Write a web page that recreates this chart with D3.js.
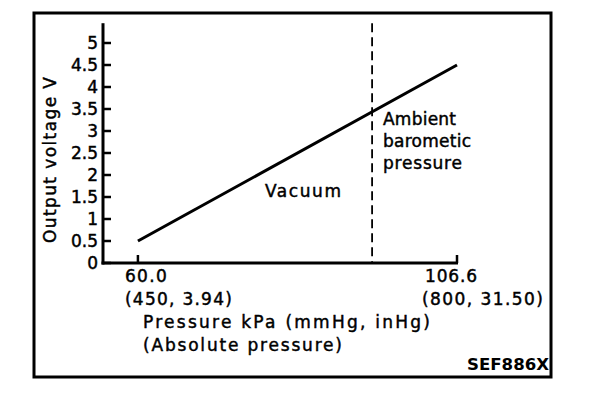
<!DOCTYPE html>
<html>
<head>
<meta charset="utf-8">
<script src="https://cdn.jsdelivr.net/npm/d3@7"></script>
<style>
  body { margin: 0; background: #fff; }
  text { font-family: "DejaVu Sans", "Liberation Sans", Arial, sans-serif; fill: #000; }
</style>
</head>
<body>
<div id="chart"></div>
<script>
// valeurs
var yTicks = [0, 0.5, 1, 1.5, 2, 2.5, 3, 3.5, 4, 4.5, 5];
var yTickLabels = ["0", "0.5", "1", "1.5", "2", "2.5", "3", "3.5", "4", "4.5", "5"];
var xTicks = [60.0, 106.6];
var xTickLabels = ["60.0", "106.6"];
var xSubLabels = ["(450, 3.94)", "(800, 31.50)"];
var pressure = [60.0, 106.6];
var voltage = [0.5, 4.5];
var ambientPressure = 94.2;
var ambientLabel = ["Ambient", "barometic", "pressure"];

var width = 608, height = 394;

var svg = d3.select("#chart").append("svg")
  .attr("width", width)
  .attr("height", height);

// cadre
svg.append("rect")
  .attr("x", 34).attr("y", 13)
  .attr("width", 517).attr("height", 364)
  .attr("fill", "none")
  .attr("stroke", "#000")
  .attr("stroke-width", 3);

var x = d3.scaleLinear().domain([54.9, 106.6]).range([103, 457]);
var y = d3.scaleLinear().domain([0, 5]).range([263, 43]);

// style commun des textes
function txt(sel, size) {
  return sel.attr("font-size", size || 17)
    .attr("stroke", "#000")
    .attr("stroke-width", 0.45)
    .attr("lengthAdjust", "spacing");
}

// axe y
svg.append("line")
  .attr("x1", x(54.9)).attr("x2", x(54.9))
  .attr("y1", y(5.45)).attr("y2", y(0) + 1.5)
  .attr("stroke", "#000").attr("stroke-width", 3);

svg.append("g").selectAll("line")
  .data(yTicks)
  .join("line")
    .attr("x1", x(54.9)).attr("x2", x(54.9) + 8)
    .attr("y1", d => y(d)).attr("y2", d => y(d))
    .attr("stroke", "#000").attr("stroke-width", 2.5);

svg.append("g").selectAll("text")
  .data(yTicks)
  .join("text")
    .attr("x", 98)
    .attr("y", d => y(d) + 6)
    .attr("text-anchor", "end")
    .call(txt)
    .text((d, i) => yTickLabels[i]);

// axe x
svg.append("line")
  .attr("x1", x(54.9) - 1.5).attr("x2", x(106.6) + 1)
  .attr("y1", y(0)).attr("y2", y(0))
  .attr("stroke", "#000").attr("stroke-width", 3);

svg.append("g").selectAll("line")
  .data(xTicks)
  .join("line")
    .attr("x1", d => x(d)).attr("x2", d => x(d))
    .attr("y1", y(0)).attr("y2", y(0) - 8)
    .attr("stroke", "#000").attr("stroke-width", 2.5);

var xLabelShift = [-13, -32];
var xSubShift = [-13, -35];
var xLabelLen = [42, 52];
var xSubLen = [107, 121];

svg.append("g").selectAll("text")
  .data(xTicks)
  .join("text")
    .attr("x", (d, i) => x(d) + xLabelShift[i])
    .attr("y", 282)
    .call(txt)
    .attr("textLength", (d, i) => xLabelLen[i])
    .text((d, i) => xTickLabels[i]);

svg.append("g").selectAll("text")
  .data(xTicks)
  .join("text")
    .attr("x", (d, i) => x(d) + xSubShift[i])
    .attr("y", 305)
    .call(txt)
    .attr("textLength", (d, i) => xSubLen[i])
    .text((d, i) => xSubLabels[i]);

// titres des axes
svg.append("text")
  .attr("x", 143).attr("y", 328)
  .call(txt)
  .attr("textLength", 287)
  .text("Pressure kPa (mmHg, inHg)");

svg.append("text")
  .attr("x", 143).attr("y", 351)
  .call(txt)
  .attr("textLength", 199)
  .text("(Absolute pressure)");

svg.append("text")
  .attr("transform", "translate(56,243) rotate(-90)")
  .call(txt)
  .attr("textLength", 166)
  .text("Output voltage V");

// ligne pression ambiante (pointillés)
svg.append("line")
  .attr("x1", x(ambientPressure)).attr("x2", x(ambientPressure))
  .attr("y1", y(5.45)).attr("y2", y(0))
  .attr("stroke", "#000").attr("stroke-width", 1.8)
  .attr("stroke-dasharray", "9,5");

// tension de sortie
var line = d3.line()
  .x(d => x(d[0]))
  .y(d => y(d[1]));

svg.append("path")
  .datum(pressure.map((p, i) => [p, voltage[i]]))
  .attr("d", line)
  .attr("fill", "none")
  .attr("stroke", "#000")
  .attr("stroke-width", 3);

// annotations
svg.append("text")
  .attr("x", 265).attr("y", 197)
  .call(txt)
  .attr("textLength", 76)
  .text("Vacuum");

var ambLen = [73, 88, 79];
svg.append("g").selectAll("text")
  .data(ambientLabel)
  .join("text")
    .attr("x", 383)
    .attr("y", (d, i) => 125 + i * 22)
    .call(txt)
    .attr("textLength", (d, i) => ambLen[i])
    .text(d => d);

svg.append("text")
  .attr("x", 467).attr("y", 370)
  .attr("font-size", 16)
  .attr("font-weight", "bold")
  .attr("textLength", 82)
  .attr("lengthAdjust", "spacingAndGlyphs")
  .text("SEF886X");
</script>
</body>
</html>
